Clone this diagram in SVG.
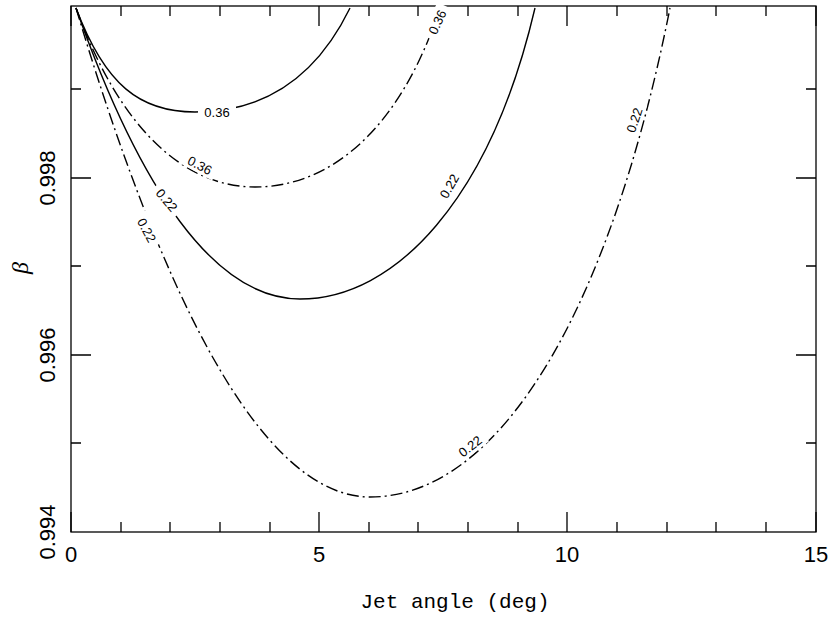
<svg xmlns="http://www.w3.org/2000/svg" width="830" height="617" viewBox="0 0 830 617">
<style>
.ax{fill:none;stroke:#000;stroke-width:1.3}
.c{fill:none;stroke:#000;stroke-width:1.4}
.dd{stroke-dasharray:12,4,2,4}
.num{font-family:"Liberation Sans",Arial,sans-serif;font-size:22px;fill:#000}
.lab{font-family:"Liberation Sans",Arial,sans-serif;font-size:13px;fill:#000}
.bg{fill:#fff}
</style>
<rect width="830" height="617" fill="#fff"/>
<g id="axes">
<rect class="ax" x="71" y="6" width="745" height="526"/>
<path class="ax" d="M71,532v-20M319,532v-20M567,532v-20M816,532v-20M71,6v20M319,6v20M567,6v20M816,6v20
M121,532v-10M170,532v-10M220,532v-10M270,532v-10M369,532v-10M418,532v-10M468,532v-10M518,532v-10M617,532v-10M667,532v-10M716,532v-10M766,532v-10
M121,6v10M170,6v10M220,6v10M270,6v10M369,6v10M418,6v10M468,6v10M518,6v10M617,6v10M667,6v10M716,6v10M766,6v10
M71,178h20M71,355h20M816,178h-20M816,355h-20M71,89h10M71,266h10M71,443h10M816,89h-10M816,266h-10M816,443h-10"/>
<text class="num" x="71" y="562" text-anchor="middle">0</text>
<text class="num" x="319" y="562" text-anchor="middle">5</text>
<text class="num" x="567" y="562" text-anchor="middle">10</text>
<text class="num" x="816" y="562" text-anchor="middle">15</text>
<text class="num" transform="translate(55,532) rotate(-90)" text-anchor="middle">0.994</text>
<text class="num" transform="translate(55,355) rotate(-90)" text-anchor="middle">0.996</text>
<text class="num" transform="translate(55,178) rotate(-90)" text-anchor="middle">0.998</text>
<text x="455" y="608" text-anchor="middle" font-family="Liberation Mono,monospace" font-size="21">Jet angle (deg)</text>
<text transform="translate(28,268) rotate(-90)" text-anchor="middle" font-family="Liberation Serif,serif" font-style="italic" font-size="24">β</text>
</g>
<g id="connectors">
<path class="c" d="M76,8 C105,85 140,112 195,112 C250,112 310,90 350,8"/>
<path class="c dd" d="M76,8 C120,130 185,187 255,187 C330,187 400,130 440,8"/>
<path class="c" d="M76,8 C140,190 215,299 300,299 C395,299 490,200 535,8"/>
<path class="c dd" d="M76,8 C160,290 260,497 370,497 C500,497 610,310 670,8"/>
</g>
<g id="labels">
<rect class="bg" x="198" y="104" width="38" height="16"/>
<text class="lab" x="217" y="117" text-anchor="middle">0.36</text>
<g transform="translate(200,165) rotate(28)"><rect class="bg" x="-18" y="-8" width="36" height="16"/><text class="lab" y="5" text-anchor="middle">0.36</text></g>
<g transform="translate(437,22) rotate(-65)"><rect class="bg" x="-18" y="-8" width="36" height="16"/><text class="lab" y="5" text-anchor="middle">0.36</text></g>
<g transform="translate(167,200) rotate(50)"><rect class="bg" x="-18" y="-8" width="36" height="16"/><text class="lab" y="5" text-anchor="middle">0.22</text></g>
<g transform="translate(147,230) rotate(62)"><rect class="bg" x="-18" y="-8" width="36" height="16"/><text class="lab" y="5" text-anchor="middle">0.22</text></g>
<g transform="translate(449,186) rotate(-60)"><rect class="bg" x="-18" y="-8" width="36" height="16"/><text class="lab" y="5" text-anchor="middle">0.22</text></g>
<g transform="translate(634,120) rotate(-72)"><rect class="bg" x="-18" y="-8" width="36" height="16"/><text class="lab" y="5" text-anchor="middle">0.22</text></g>
<g transform="translate(470,446) rotate(-38)"><rect class="bg" x="-18" y="-8" width="36" height="16"/><text class="lab" y="5" text-anchor="middle">0.22</text></g>
</g>
</svg>
